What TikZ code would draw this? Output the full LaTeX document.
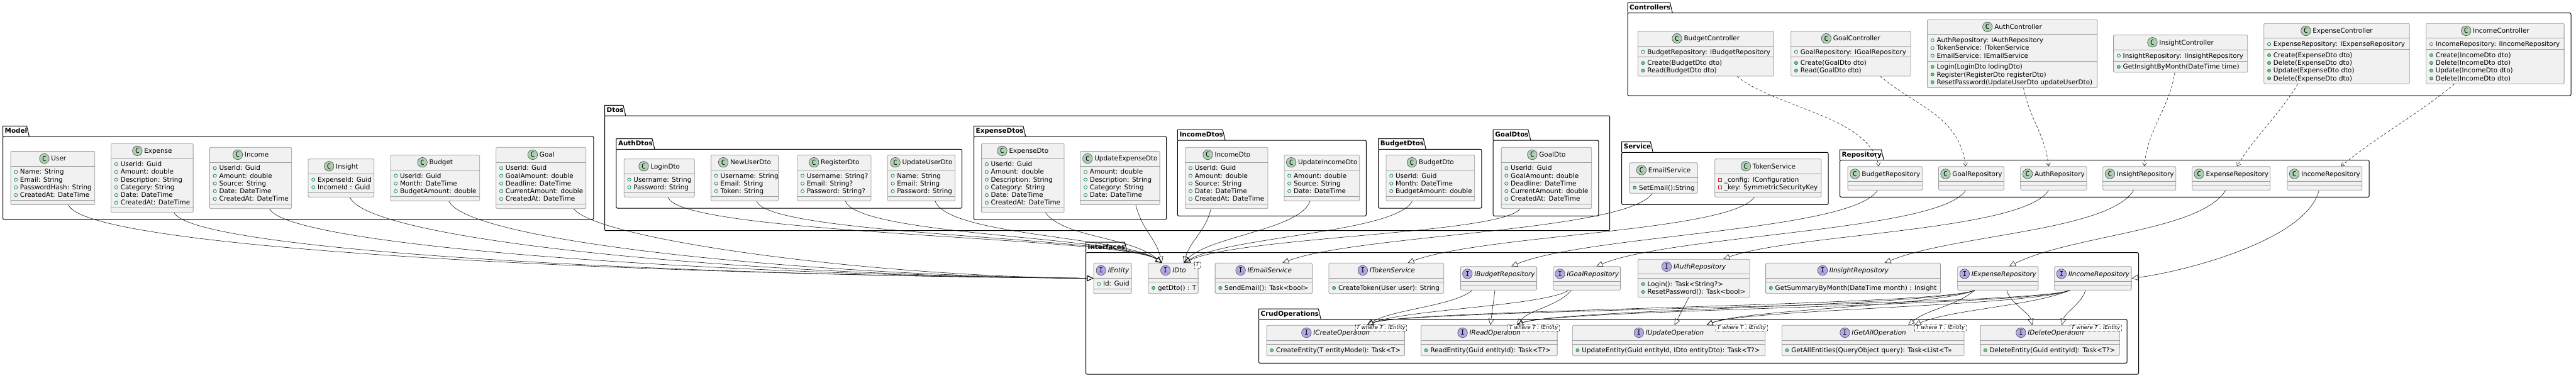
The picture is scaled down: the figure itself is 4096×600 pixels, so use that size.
\documentclass[tikz,border=0pt]{standalone}
\usepackage{fontspec}
\setmainfont{DejaVu Sans}
\newfontfamily\iconfont{DejaVu Sans Mono}
\usetikzlibrary{arrows.meta}

\definecolor{classfill}{HTML}{F1F1F1}
\definecolor{classedge}{HTML}{9A9A9A}
\definecolor{cgreen}{HTML}{ADD1B2}
\definecolor{ipurple}{HTML}{B4A7E5}
\definecolor{fieldc}{HTML}{038048}
\definecolor{methfill}{HTML}{84BE84}
\definecolor{privc}{HTML}{C82930}
\definecolor{edgec}{HTML}{181818}

% little icons
\newcommand{\kico}[2]{\tikz[baseline=-3.8pt]\node[circle,draw=black!80,line width=0.5pt,fill=#1,inner sep=0pt,minimum size=15.5pt,font=\iconfont\fontsize{11}{11}\selectfont]{#2};}
\newcommand{\chead}[1]{\kico{cgreen}{C}\hspace{3pt}#1}
\newcommand{\ihead}[1]{\kico{ipurple}{I}\hspace{3pt}\textit{#1}}
\newcommand{\fpub}{\makebox[9.8pt][l]{\tikz[baseline=-3.6pt]\draw[fieldc,line width=0.7pt] (0,0) circle (2.6pt);}}
\newcommand{\mpub}{\makebox[9.8pt][l]{\tikz[baseline=-3.6pt]\filldraw[draw=fieldc,fill=methfill,line width=0.6pt] (0,0) circle (2.6pt);}}
\newcommand{\fpriv}{\makebox[9.8pt][l]{\tikz[baseline=-3.6pt]\draw[privc,line width=0.7pt] (-2.4pt,-2.4pt) rectangle (2.4pt,2.4pt);}}
\newcommand{\memberrows}[1]{\begin{tabular}[t]{@{}l@{}}#1\end{tabular}}

% package: name, label, left, frame top, right, bottom
\newcommand{\umlpkg}[6]{%
  \node[pkglabel,anchor=south west] (#1) at (#3,#4) {#2};
  \draw[pkgline] (#1.south west) |- ([xshift=-4pt]#1.north east) -- (#1.south east);
  \draw[pkgline,rounded corners=2pt] (#3,#4) rectangle (#5,#6);
}

% class: name, left, centre y, width, header, #attrs, attrs, #methods, methods
\newcommand{\umlclass}[9]{%
  \pgfmathsetmacro{\attrh}{#6==0 ? 6.7 : #6*12.25+5.4}%
  \pgfmathsetmacro{\methh}{#8==0 ? 6.7 : #8*12.25+5.4}%
  \pgfmathsetmacro{\boxh}{24+\attrh+\methh}%
  \pgfmathsetmacro{\sepy}{24+\attrh}%
  \pgfmathsetmacro{\methy}{24+\attrh+12.9}%
  \node[classbox,minimum width=#4,minimum height=\boxh,anchor=west] (#1) at (#2,#3) {};
  \node[inner sep=0pt] (#1-name) at ([yshift=-12pt]#1.north) {#5};
  \draw[classline] ([yshift=-24pt]#1.north west) -- ([yshift=-24pt]#1.north east);
  \draw[classline] ([yshift=-\sepy]#1.north west) -- ([yshift=-\sepy]#1.north east);
  \node[members] (#1-attrs) at ([xshift=5.5pt,yshift=-36.9pt]#1.north west) {\memberrows{#7}};
  \node[members] (#1-meths) at ([xshift=5.5pt,yshift=-\methy]#1.north west) {\memberrows{#9}};
}

\begin{document}
\begin{tikzpicture}[x=1pt, y=-1pt, font=\fontsize{10.4}{12.25}\selectfont,
  classbox/.style={draw=classedge, fill=classfill, line width=0.8pt, rounded corners=1.5pt, inner sep=0pt},
  classline/.style={draw=classedge, line width=0.8pt},
  members/.style={inner sep=0pt, anchor=base west},
  pkglabel/.style={font=\bfseries\fontsize{10.4}{12}\selectfont, inner xsep=3pt, inner ysep=3pt, text height=8pt, text depth=2.3pt},
  pkgline/.style={draw=black, line width=1pt},
  tparam/.style={draw=black!75, dash pattern=on 1pt off 1pt, fill=white, font=\itshape\fontsize{8.5}{9}\selectfont, inner xsep=2pt, inner ysep=1pt, text height=6.2pt, text depth=1.8pt},
  impl/.style={draw=edgec, line width=0.6pt, -{Triangle[open, length=10pt, width=9pt]}},
  dep/.style={draw=edgec, line width=0.6pt, dash pattern=on 4pt off 3pt, -{Straight Barb[length=5pt, width=7pt]}}]
\useasboundingbox (0,0) rectangle (4096,600);
\fill[white] (0,0) rectangle (4096,600);

% packages
\umlpkg{pkgCtrl}{Controllers}{2588}{20.7}{4088}{152}
\umlpkg{pkgModel}{Model}{4.5}{217}{943.8}{348.7}
\umlpkg{pkgDtos}{Dtos}{961.5}{184}{2559.7}{366.7}
\umlpkg{pkgAuthDtos}{AuthDtos}{979.8}{237.3}{1529.7}{331}
\umlpkg{pkgExpenseDtos}{ExpenseDtos}{1548.5}{217}{1854.5}{349}
\umlpkg{pkgIncomeDtos}{IncomeDtos}{1872.3}{223}{2172.3}{343.3}
\umlpkg{pkgBudgetDtos}{BudgetDtos}{2191.7}{237.3}{2355.8}{331}
\umlpkg{pkgGoalDtos}{GoalDtos}{2374.2}{223}{2541.8}{343.3}
\umlpkg{pkgService}{Service}{2578.7}{242.3}{2907}{325.3}
\umlpkg{pkgRepo}{Repository}{2925.5}{254.7}{3767.2}{313.3}
\umlpkg{pkgIfaces}{Interfaces}{1726.5}{401.7}{3400.5}{595}
\umlpkg{pkgCrud}{CrudOperations}{2001.5}{507.7}{3382.1}{577.3}

% controllers
\umlclass{BudgetController}{2603.8}{85.3}{216.2}{\chead{BudgetController}}{1}{\fpub BudgetRepository: IBudgetRepository}{2}{\mpub Create(BudgetDto dto)\\ \mpub Read(BudgetDto dto)}
\umlclass{GoalController}{2847.3}{85.3}{190.3}{\chead{GoalController}}{1}{\fpub GoalRepository: IGoalRepository}{2}{\mpub Create(GoalDto dto)\\ \mpub Read(GoalDto dto)}
\umlclass{AuthController}{3064}{85.3}{270.2}{\chead{AuthController}}{3}{\fpub AuthRepository: IAuthRepository\\ \fpub TokenService: ITokenService\\ \fpub EmailService: IEmailService}{3}{\mpub Login(LoginDto lodingDto)\\ \mpub Register(RegisterDto registerDto)\\ \mpub ResetPassword(UpdateUserDto updateUserDto)}
\umlclass{InsightController}{3360.2}{85.3}{213.1}{\chead{InsightController}}{1}{\fpub InsightRepository: IInsightRepository}{1}{\mpub GetInsightByMonth(DateTime time)}
\umlclass{ExpenseController}{3599.4}{85.3}{231.4}{\chead{ExpenseController}}{1}{\fpub ExpenseRepository: IExpenseRepository}{4}{\mpub Create(ExpenseDto dto)\\ \mpub Delete(ExpenseDto dto)\\ \mpub Update(ExpenseDto dto)\\ \mpub Delete(ExpenseDto dto)}
\umlclass{IncomeController}{3857.3}{85.3}{219.4}{\chead{IncomeController}}{1}{\fpub IncomeRepository: IIncomeRepository}{4}{\mpub Create(IncomeDto dto)\\ \mpub Delete(IncomeDto dto)\\ \mpub Update(IncomeDto dto)\\ \mpub Delete(IncomeDto dto)}

% model
\umlclass{User}{16.5}{283}{133.9}{\chead{User}}{4}{\fpub Name: String\\ \fpub Email: String\\ \fpub PasswordHash: String\\ \fpub CreatedAt: DateTime}{0}{}
\umlclass{Expense}{176.3}{283}{130.4}{\chead{Expense}}{6}{\fpub UserId: Guid\\ \fpub Amount: double\\ \fpub Description: String\\ \fpub Category: String\\ \fpub Date: DateTime\\ \fpub CreatedAt: DateTime}{0}{}
\umlclass{Income}{333}{283}{130.4}{\chead{Income}}{5}{\fpub UserId: Guid\\ \fpub Amount: double\\ \fpub Source: String\\ \fpub Date: DateTime\\ \fpub CreatedAt: DateTime}{0}{}
\umlclass{Insight}{489.6}{283}{104.7}{\chead{Insight}}{2}{\fpub ExpenseId: Guid\\ \fpub IncomeId : Guid}{0}{}
\umlclass{Budget}{620.5}{283}{141.8}{\chead{Budget}}{3}{\fpub UserId: Guid\\ \fpub Month: DateTime\\ \fpub BudgetAmount: double}{0}{}
\umlclass{Goal}{788.4}{283}{143}{\chead{Goal}}{5}{\fpub UserId: Guid\\ \fpub GoalAmount: double\\ \fpub Deadline: DateTime\\ \fpub CurrentAmount: double\\ \fpub CreatedAt: DateTime}{0}{}

% dtos
\umlclass{LoginDto}{991.9}{283}{111.9}{\chead{LoginDto}}{2}{\fpub Username: String\\ \fpub Password: String}{0}{}
\umlclass{NewUserDto}{1130.2}{283}{106.8}{\chead{NewUserDto}}{3}{\fpub Username: String\\ \fpub Email: String\\ \fpub Token: String}{0}{}
\umlclass{RegisterDto}{1267.4}{283}{117.1}{\chead{RegisterDto}}{3}{\fpub Username: String?\\ \fpub Email: String?\\ \fpub Password: String?}{0}{}
\umlclass{UpdateUserDto}{1410.9}{283}{107.4}{\chead{UpdateUserDto}}{3}{\fpub Name: String\\ \fpub Email: String\\ \fpub Password: String}{0}{}
\umlclass{ExpenseDto}{1560.2}{283}{131.4}{\chead{ExpenseDto}}{6}{\fpub UserId: Guid\\ \fpub Amount: double\\ \fpub Description: String\\ \fpub Category: String\\ \fpub Date: DateTime\\ \fpub CreatedAt: DateTime}{0}{}
\umlclass{UpdateExpenseDto}{1717.4}{283}{126.3}{\chead{UpdateExpenseDto}}{4}{\fpub Amount: double\\ \fpub Description: String\\ \fpub Category: String\\ \fpub Date: DateTime}{0}{}
\umlclass{IncomeDto}{1884.3}{283}{131.3}{\chead{IncomeDto}}{5}{\fpub UserId: Guid\\ \fpub Amount: double\\ \fpub Source: String\\ \fpub Date: DateTime\\ \fpub CreatedAt: DateTime}{0}{}
\umlclass{UpdateIncomeDto}{2041.5}{283}{119.8}{\chead{UpdateIncomeDto}}{3}{\fpub Amount: double\\ \fpub Source: String\\ \fpub Date: DateTime}{0}{}
\umlclass{BudgetDto}{2203.6}{283}{140.8}{\chead{BudgetDto}}{3}{\fpub UserId: Guid\\ \fpub Month: DateTime\\ \fpub BudgetAmount: double}{0}{}
\umlclass{GoalDto}{2386.7}{283}{143.7}{\chead{GoalDto}}{5}{\fpub UserId: Guid\\ \fpub GoalAmount: double\\ \fpub Deadline: DateTime\\ \fpub CurrentAmount: double\\ \fpub CreatedAt: DateTime}{0}{}

% services and repositories
\umlclass{EmailService}{2590.7}{283}{108}{\chead{EmailService}}{0}{}{1}{\mpub SetEmail():String}
\umlclass{TokenService}{2726.3}{283}{169.3}{\chead{TokenService}}{2}{\fpriv \_config: IConfiguration\\ \fpriv \_key: SymmetricSecurityKey}{0}{}
\umlclass{BudgetRepository}{2937.5}{283.5}{118.8}{\chead{BudgetRepository}}{0}{}{0}{}
\umlclass{GoalRepository}{3082.1}{283.5}{103.9}{\chead{GoalRepository}}{0}{}{0}{}
\umlclass{AuthRepository}{3212.4}{283.5}{105.1}{\chead{AuthRepository}}{0}{}{0}{}
\umlclass{InsightRepository}{3343.3}{283.5}{116}{\chead{InsightRepository}}{0}{}{0}{}
\umlclass{ExpenseRepository}{3485.4}{283.5}{124}{\chead{ExpenseRepository}}{0}{}{0}{}
\umlclass{IncomeRepository}{3636.6}{283.5}{118.7}{\chead{IncomeRepository}}{0}{}{0}{}

% interfaces
\umlclass{IEntity}{1738.5}{442.5}{60.3}{\ihead{IEntity}}{1}{\fpub Id: Guid}{0}{}
\umlclass{IDto}{1825.5}{442.5}{79.2}{\ihead{IDto}}{0}{}{1}{\mpub getDto() : T}
\umlclass{IEmailService}{1931.7}{442.5}{154.3}{\ihead{IEmailService}}{0}{}{1}{\mpub SendEmail(): Task<bool>}
\umlclass{ITokenService}{2112.5}{442.5}{182.8}{\ihead{ITokenService}}{0}{}{1}{\mpub CreateToken(User user): String}
\umlclass{IBudgetRepository}{2322}{442.5}{121.2}{\ihead{IBudgetRepository}}{0}{}{0}{}
\umlclass{IGoalRepository}{2469.5}{442.5}{106.7}{\ihead{IGoalRepository}}{0}{}{0}{}
\umlclass{IAuthRepository}{2604}{442.5}{177.5}{\ihead{IAuthRepository}}{0}{}{2}{\mpub Login(): Task<String?>\\ \mpub ResetPassword(): Task<bool>}
\umlclass{IInsightRepository}{2807.2}{442.5}{277.9}{\ihead{IInsightRepository}}{0}{}{1}{\mpub GetSummaryByMonth(DateTime month) : Insight}
\umlclass{IExpenseRepository}{3112.3}{442.5}{128.3}{\ihead{IExpenseRepository}}{0}{}{0}{}
\umlclass{IIncomeRepository}{3266.3}{442.5}{122.4}{\ihead{IIncomeRepository}}{0}{}{0}{}
\umlclass{ICreateOperation}{2013.5}{541.5}{219.5}{\ihead{ICreateOperation}}{0}{}{1}{\mpub CreateEntity(T entityModel): Task<T>}
\umlclass{IReadOperation}{2259}{541.5}{216.7}{\ihead{IReadOperation}}{0}{}{1}{\mpub ReadEntity(Guid entityId): Task<T?>}
\umlclass{IUpdateOperation}{2499.9}{541.5}{306.5}{\ihead{IUpdateOperation}}{0}{}{1}{\mpub UpdateEntity(Guid entityId, IDto entityDto): Task<T?>}
\umlclass{IGetAllOperation}{2832.8}{541.5}{289.7}{\ihead{IGetAllOperation}}{0}{}{1}{\mpub GetAllEntities(QueryObject query): Task<List<T>>}
\umlclass{IDeleteOperation}{3148.2}{541.5}{221.5}{\ihead{IDeleteOperation}}{0}{}{1}{\mpub DeleteEntity(Guid entityId): Task<T?>}

% generic parameters
\node[tparam,anchor=north east] (IDto-T) at ([xshift=3pt,yshift=1.5pt]IDto.north east) {T};
\foreach \op in {ICreateOperation,IReadOperation,IUpdateOperation,IGetAllOperation,IDeleteOperation}
  \node[tparam,anchor=north east] (\op-T) at ([xshift=3pt,yshift=1pt]\op.north east) {T where T : IEntity};

% controllers use repositories
\draw[dep] ([xshift=50pt]BudgetController.south) .. controls +(60,50) and +(-15,-80) .. ([xshift=-10pt]BudgetRepository.north);
\draw[dep] ([xshift=47pt]GoalController.south) .. controls +(60,50) and +(-10,-80) .. ([xshift=-9pt]GoalRepository.north);
\draw[dep] ([xshift=18pt]AuthController.south) .. controls +(10,50) and +(-5,-50) .. ([xshift=-8pt]AuthRepository.north);
\draw[dep] ([xshift=-9pt]InsightController.south) .. controls +(-10,60) and +(5,-60) .. ([xshift=8pt]InsightRepository.north);
\draw[dep] ([xshift=-62pt]ExpenseController.south) .. controls +(-30,50) and +(30,-50) .. ([xshift=9pt]ExpenseRepository.north);
\draw[dep] ([xshift=-65pt]IncomeController.south) .. controls +(-60,50) and +(60,-50) .. ([xshift=26pt]IncomeRepository.north);

% model implements IEntity
\draw[impl] ([xshift=25pt]User.south) .. controls +(30,70) and +(-750,-6) .. (IEntity.west);
\draw[impl] ([xshift=35pt]Expense.south) .. controls +(30,60) and +(-700,-5) .. (IEntity.west);
\draw[impl] ([xshift=30pt]Income.south) .. controls +(30,60) and +(-600,-5) .. (IEntity.west);
\draw[impl] ([xshift=14pt]Insight.south) .. controls +(30,70) and +(-550,-4) .. (IEntity.west);
\draw[impl] ([xshift=22pt]Budget.south) .. controls +(30,65) and +(-450,-4) .. (IEntity.west);
\draw[impl] ([xshift=52pt]Goal.south) .. controls +(40,50) and +(-350,-3) .. (IEntity.west);

% dtos implement IDto
\draw[impl] ([xshift=14pt]LoginDto.south) .. controls +(20,60) and +(-60,-42) .. ([xshift=-18pt]IDto.north);
\draw[impl] ([xshift=19pt]NewUserDto.south) .. controls +(20,55) and +(-60,-42) .. ([xshift=-18pt]IDto.north);
\draw[impl] ([xshift=18pt]RegisterDto.south) .. controls +(20,55) and +(-60,-42) .. ([xshift=-18pt]IDto.north);
\draw[impl] ([xshift=22pt]UpdateUserDto.south) .. controls +(20,55) and +(-60,-42) .. ([xshift=-18pt]IDto.north);
\draw[impl] ([xshift=36pt]ExpenseDto.south) .. controls +(30,40) and +(-50,-42) .. ([xshift=-18pt]IDto.north);
\draw[impl] ([xshift=25pt]UpdateExpenseDto.south) .. controls +(10,40) and +(-10,-40) .. ([xshift=-18pt]IDto.north);
\draw[impl] ([xshift=-25pt]IncomeDto.south) .. controls +(-8,35) and +(10,-35) .. ([xshift=17pt]IDto.north);
\draw[impl] ([xshift=-19pt]UpdateIncomeDto.south) .. controls +(-15,45) and +(40,-42) .. ([xshift=17pt]IDto.north);
\draw[impl] ([xshift=-29pt]BudgetDto.south) .. controls +(-25,50) and +(70,-42) .. ([xshift=17pt]IDto.north);
\draw[impl] ([xshift=-42pt]GoalDto.south) .. controls +(-30,40) and +(90,-42) .. ([xshift=17pt]IDto.north);

% services and repositories implement their interfaces
\draw[impl] ([xshift=-18pt]EmailService.south) .. controls +(-40,60) and +(120,-45) .. ([xshift=30pt]IEmailService.north);
\draw[impl] ([xshift=-22pt]TokenService.south) .. controls +(-40,55) and +(120,-45) .. ([xshift=34pt]ITokenService.north);
\draw[impl] ([xshift=-12pt]BudgetRepository.south) .. controls +(-40,65) and +(120,-50) .. ([xshift=20pt]IBudgetRepository.north);
\draw[impl] ([xshift=-9pt]GoalRepository.south) .. controls +(-40,65) and +(120,-50) .. ([xshift=15pt]IGoalRepository.north);
\draw[impl] ([xshift=-8pt]AuthRepository.south) .. controls +(-40,65) and +(110,-40) .. ([xshift=47pt]IAuthRepository.north);
\draw[impl] ([xshift=-9pt]InsightRepository.south) .. controls +(-40,65) and +(110,-45) .. ([xshift=50pt]IInsightRepository.north);
\draw[impl] ([xshift=-9pt]ExpenseRepository.south) .. controls +(-40,65) and +(100,-50) .. ([xshift=18pt]IExpenseRepository.north);
\draw[impl] ([xshift=-9pt]IncomeRepository.south) .. controls +(-20,80) and +(80,-10) .. (IIncomeRepository.east);

% repository interfaces extend the crud operations
\draw[impl] ([xshift=-42pt]IBudgetRepository.south) .. controls +(-30,25) and +(40,-25) .. ([xshift=50pt]ICreateOperation.north);
\draw[impl] ([xshift=-6pt]IBudgetRepository.south) -- ([xshift=2pt]IReadOperation.north);
\draw[impl] ([xshift=-29pt]IGoalRepository.south) .. controls +(-40,25) and +(60,-25) .. ([xshift=50pt]ICreateOperation.north);
\draw[impl] ([xshift=-25pt]IGoalRepository.south) .. controls +(-20,25) and +(20,-25) .. ([xshift=44pt]IReadOperation.north);
\draw[impl] ([xshift=-8pt]IAuthRepository.south) -- ([xshift=9pt]IUpdateOperation.north);
\foreach \src in {IExpenseRepository,IIncomeRepository} {
  \draw[impl] ([xshift=-37pt]\src.south) .. controls +(-60,25) and +(60,-25) .. ([xshift=50pt]ICreateOperation.north);
  \draw[impl] ([xshift=-37pt]\src.south) .. controls +(-60,25) and +(60,-25) .. ([xshift=44pt]IReadOperation.north);
  \draw[impl] ([xshift=-37pt]\src.south) .. controls +(-60,25) and +(60,-25) .. ([xshift=60pt]IUpdateOperation.north);
}
\draw[impl] ([xshift=-37pt]IExpenseRepository.south) .. controls +(-30,25) and +(30,-25) .. ([xshift=56pt]IGetAllOperation.north);
\draw[impl] ([xshift=-37pt]IIncomeRepository.south) .. controls +(-60,25) and +(60,-25) .. ([xshift=66pt]IGetAllOperation.north);
\draw[impl] ([xshift=14pt]IExpenseRepository.south) .. controls +(5,20) and +(-5,-20) .. ([xshift=-28pt]IDeleteOperation.north);
\draw[impl] ([xshift=-12pt]IIncomeRepository.south) .. controls +(-5,20) and +(5,-20) .. ([xshift=19pt]IDeleteOperation.north);
\end{tikzpicture}
\end{document}
